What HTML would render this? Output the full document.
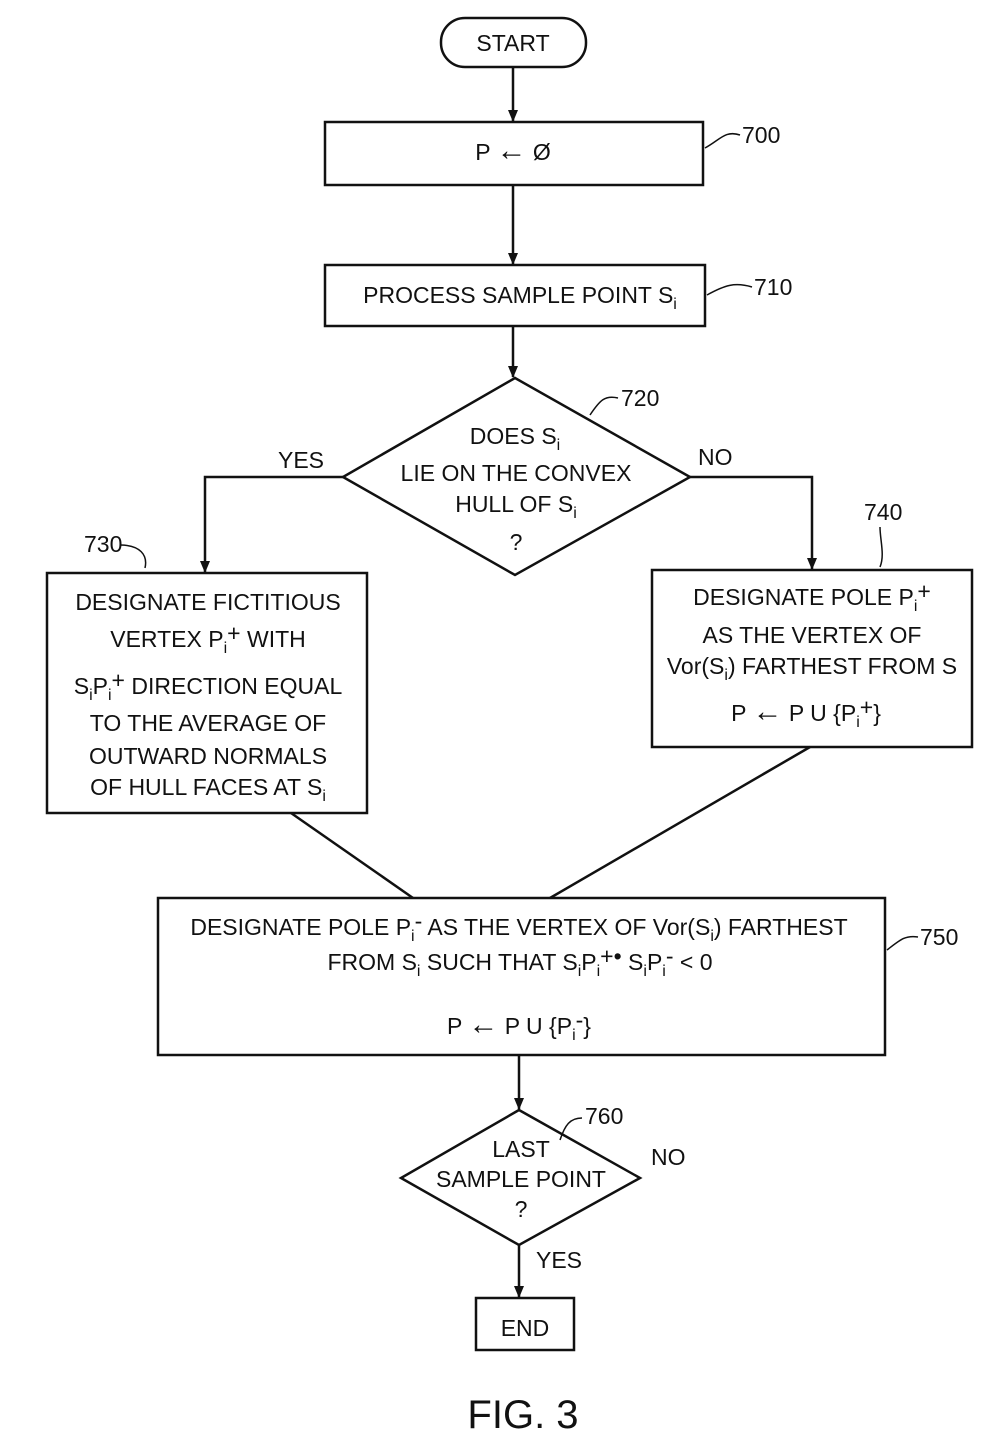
<!DOCTYPE html>
<html><head><meta charset="utf-8"><style>
html,body{margin:0;padding:0;background:#fff;}
svg{display:block;}
text{font-family:"Liberation Sans",sans-serif;font-size:23px;fill:#111;}
</style></head><body>
<svg width="1004" height="1443" viewBox="0 0 1004 1443" xmlns="http://www.w3.org/2000/svg">
<defs>
<marker id="ar" markerWidth="12" markerHeight="12" refX="11" refY="6" orient="auto" markerUnits="userSpaceOnUse"><path d="M0,1 L12,6 L0,11 Z" fill="#111"/></marker></defs>
<g stroke="#111" stroke-width="2.5" fill="none">
<rect x="441" y="18" width="145" height="49" rx="24"/>
<line x1="513" y1="67" x2="513" y2="121" marker-end="url(#ar)"/>
<rect x="325" y="122" width="378" height="63"/>
<line x1="513" y1="185" x2="513" y2="264" marker-end="url(#ar)"/>
<rect x="325" y="265" width="380" height="61"/>
<line x1="513" y1="326" x2="513" y2="377" marker-end="url(#ar)"/>
<path d="M515,378 L690,477 L515,575 L343,477 Z"/>
<polyline points="343,477 205,477 205,572" marker-end="url(#ar)"/>
<polyline points="690,477 812,477 812,569" marker-end="url(#ar)"/>
<rect x="47" y="573" width="320" height="240"/>
<rect x="652" y="570" width="320" height="177"/>
<line x1="291" y1="813" x2="413" y2="898"/>
<line x1="810" y1="747" x2="550" y2="898"/>
<rect x="158" y="898" width="727" height="157"/>
<line x1="519" y1="1055" x2="519" y2="1109" marker-end="url(#ar)"/>
<path d="M519,1110 L640,1178 L519,1245 L401,1178 Z"/>
<line x1="519" y1="1245" x2="519" y2="1297" marker-end="url(#ar)"/>
<rect x="476" y="1298" width="98" height="52"/>
<path d="M705,148 C720,140 725,130 740,135" stroke-width="1.5"/>
<path d="M707,295 C725,285 735,282 752,287" stroke-width="1.5"/>
<path d="M590,415 C600,400 605,395 618,398" stroke-width="1.5"/>
<path d="M120,545 C140,545 148,555 145,568" stroke-width="1.5"/>
<path d="M880,527 C880,540 885,555 880,567" stroke-width="1.5"/>
<path d="M887,950 C900,940 905,935 918,937" stroke-width="1.5"/>
<path d="M560,1140 C565,1125 570,1118 582,1118" stroke-width="1.5"/>
</g>
<g text-anchor="middle">
<text x="513" y="51">START</text>
<text x="513" y="160">P <tspan style="font-size:30px">←</tspan> Ø</text>
<text x="520" y="303">PROCESS SAMPLE POINT S<tspan font-size="16" dy="6">i</tspan></text>
<text x="515" y="444">DOES S<tspan font-size="16" dy="6">i</tspan></text>
<text x="516" y="481">LIE ON THE CONVEX</text>
<text x="516" y="512">HULL OF S<tspan font-size="16" dy="6">i</tspan></text>
<text x="516" y="550">?</text>
<text x="208" y="610">DESIGNATE FICTITIOUS</text>
<text x="208" y="647">VERTEX P<tspan font-size="16" dy="6">i</tspan><tspan dy="-12">+</tspan><tspan dy="6"> WITH</tspan></text>
<text x="208" y="694">S<tspan font-size="16" dy="6">i</tspan><tspan dy="-6">P</tspan><tspan font-size="16" dy="6">i</tspan><tspan dy="-12">+</tspan><tspan dy="6"> DIRECTION EQUAL</tspan></text>
<text x="208" y="731">TO THE AVERAGE OF</text>
<text x="208" y="764">OUTWARD NORMALS</text>
<text x="208" y="795">OF HULL FACES AT S<tspan font-size="16" dy="6">i</tspan></text>
<text x="812" y="605">DESIGNATE POLE P<tspan font-size="16" dy="6">i</tspan><tspan dy="-12">+</tspan></text>
<text x="812" y="643">AS THE VERTEX OF</text>
<text x="812" y="674">Vor(S<tspan font-size="16" dy="6">i</tspan><tspan dy="-6">) FARTHEST FROM S</tspan></text>
<text x="806" y="721">P <tspan style="font-size:30px">←</tspan> P U {P<tspan font-size="16" dy="6">i</tspan><tspan dy="-12">+</tspan><tspan dy="6">}</tspan></text>
<text x="519" y="935">DESIGNATE POLE P<tspan font-size="16" dy="6">i</tspan><tspan dy="-12">-</tspan><tspan dy="6"> AS THE VERTEX OF Vor(S</tspan><tspan font-size="16" dy="6">i</tspan><tspan dy="-6">) FARTHEST</tspan></text>
<text x="520" y="970">FROM S<tspan font-size="16" dy="6">i</tspan><tspan dy="-6"> SUCH THAT  S</tspan><tspan font-size="16" dy="6">i</tspan><tspan dy="-6">P</tspan><tspan font-size="16" dy="6">i</tspan><tspan dy="-12">+•</tspan><tspan dy="6">  S</tspan><tspan font-size="16" dy="6">i</tspan><tspan dy="-6">P</tspan><tspan font-size="16" dy="6">i</tspan><tspan dy="-12">-</tspan><tspan dy="6">   &lt;   0</tspan></text>
<text x="519" y="1034">P <tspan style="font-size:30px">←</tspan> P U {P<tspan font-size="16" dy="6">i</tspan><tspan dy="-12">-</tspan><tspan dy="6">}</tspan></text>
<text x="521" y="1157">LAST</text>
<text x="521" y="1187">SAMPLE POINT</text>
<text x="521" y="1217">?</text>
<text x="525" y="1336">END</text>
<text x="523" y="1428" style="font-size:40px">FIG. 3</text>
</g>
<text x="742" y="143">700</text>
<text x="754" y="295">710</text>
<text x="621" y="406">720</text>
<text x="84" y="552">730</text>
<text x="864" y="520">740</text>
<text x="920" y="945">750</text>
<text x="585" y="1124">760</text>
<text x="278" y="468">YES</text>
<text x="698" y="465">NO</text>
<text x="651" y="1165">NO</text>
<text x="536" y="1268">YES</text>
</svg>
</body></html>
